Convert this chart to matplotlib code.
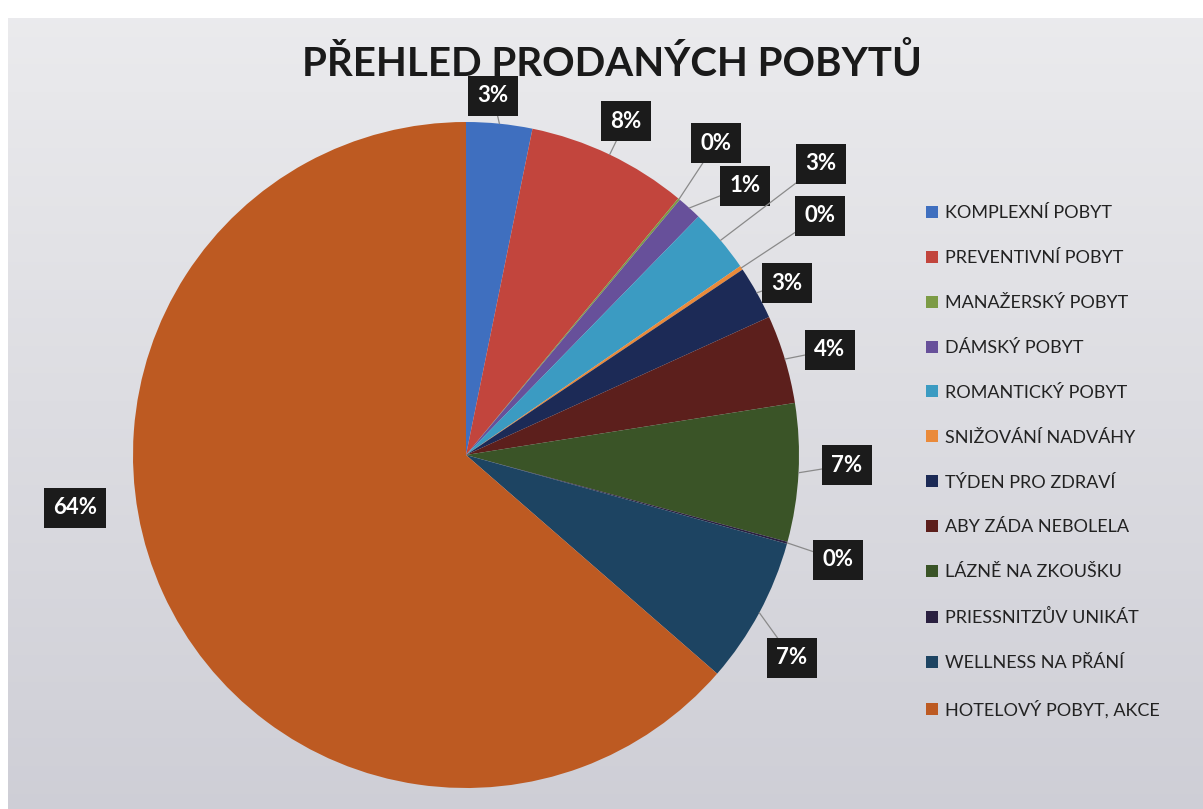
import numpy as np
import matplotlib
matplotlib.use('Agg')
import matplotlib.pyplot as plt

# data (percent shares)
categories = ['KOMPLEXNÍ POBYT', 'PREVENTIVNÍ POBYT', 'MANAŽERSKÝ POBYT', 'DÁMSKÝ POBYT',
              'ROMANTICKÝ POBYT', 'SNIŽOVÁNÍ NADVÁHY', 'TÝDEN PRO ZDRAVÍ', 'ABY ZÁDA NEBOLELA',
              'LÁZNĚ NA ZKOUŠKU', 'PRIESSNITZŮV UNIKÁT', 'WELLNESS NA PŘÁNÍ', 'HOTELOVÝ POBYT, AKCE']
values = [3.2, 7.8, 0.1, 1.2, 3.1, 0.2, 2.6, 4.3, 6.7, 0.1, 7.1, 63.6]

colors = ['#3f6fbf', '#c2453d', '#7c9b45', '#67509a', '#3b9bc2', '#ea8a3a',
          '#1c2a56', '#5c1f1c', '#3a5427', '#2a2040', '#1d4462', '#bd5a22']

# label box centres in pixels (x from left, y from top)
label_pos = [(493, 96), (626, 121), (716, 143), (745, 186), (821, 164), (820, 216),
             (787, 283), (830, 350), (847, 465), (838, 560), (792, 658), (75, 508)]
show_line = [True] * 11 + [False]

W, H = 1203, 809
fig = plt.figure(figsize=(W / 100, H / 100), dpi=100)
fig.patch.set_facecolor('white')

# grey background with a light gradient
bg = fig.add_axes([8 / W, 0, 1 - 8 / W, 1 - 18 / H])
grad = np.linspace(0, 1, 256).reshape(-1, 1)
top = np.array([0.92, 0.92, 0.93])
bot = np.array([0.81, 0.81, 0.84])
img = top + (bot - top) * grad[:, :, None]
bg.imshow(img, aspect='auto', extent=[0, 1, 0, 1])
bg.axis('off')

cx, cy, r = 466, 455, 333
ax = fig.add_axes([(cx - r) / W, (H - cy - r) / H, 2 * r / W, 2 * r / H])
wedges, _ = ax.pie(values, colors=colors, startangle=90, counterclock=False,
                   radius=1, wedgeprops=dict(linewidth=0))
ax.set_xlim(-1, 1)
ax.set_ylim(-1, 1)
ax.set_aspect('equal')

total = sum(values)
for w, v, (px, py), line in zip(wedges, values, label_pos, show_line):
    ang = np.deg2rad((w.theta1 + w.theta2) / 2)
    xy = (np.cos(ang), np.sin(ang))
    arrow = dict(arrowstyle='-', color='#8a8a8a', lw=0.9, shrinkA=0, shrinkB=0) if line else None
    ax.annotate('%d%%' % round(v / total * 100), xy=xy,
                xytext=(px / W, 1 - py / H), textcoords='figure fraction',
                ha='center', va='center', color='white', fontsize=16,
                fontweight='bold', fontfamily='Lato',
                bbox=dict(boxstyle='square,pad=0.42', fc='#1b1b1b', ec='none'),
                arrowprops=arrow)

fig.text(612 / W, 1 - 63 / H, 'PŘEHLED PRODANÝCH POBYTŮ', ha='center', va='center',
         fontsize=29, fontweight='bold', fontfamily='Lato', color='#1a1a1a')

handles = [plt.Rectangle((0, 0), 1, 1, fc=c, ec='none') for c in colors]
fig.legend(handles, categories, loc='upper left', bbox_to_anchor=(910 / W, 1 - 189 / H),
           frameon=False, prop=dict(family='Lato', size=13), labelspacing=1.6,
           handlelength=0.65, handleheight=0.65, handletextpad=0.4, labelcolor='#222222')

fig.savefig('out.png', dpi=100)
